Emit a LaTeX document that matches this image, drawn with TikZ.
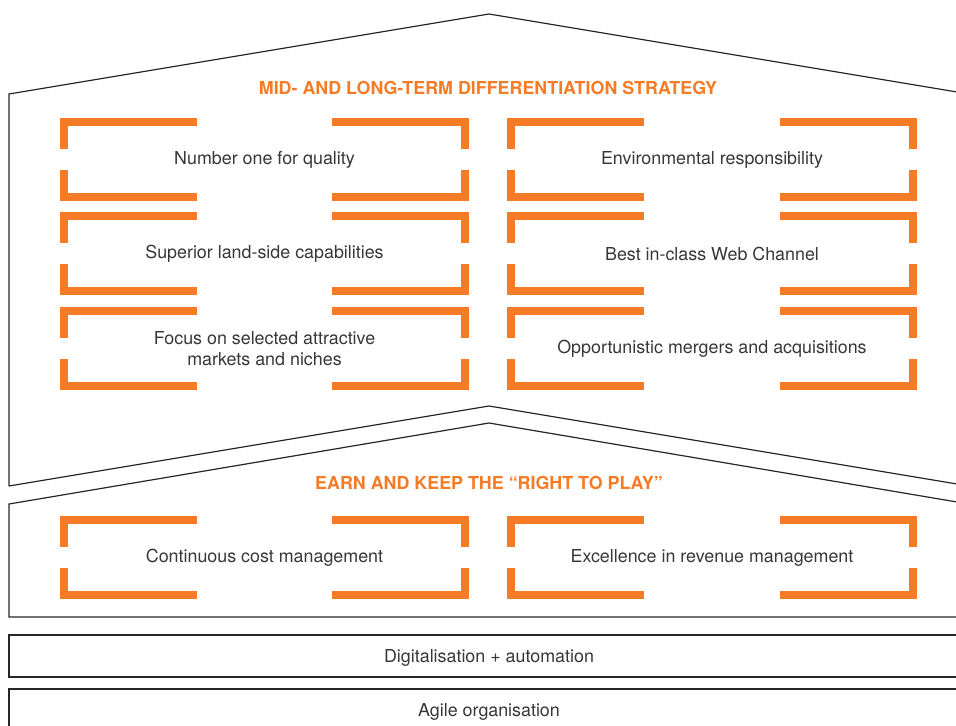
\documentclass[tikz,border=0pt]{standalone}
\usepackage{fontspec}
\setmainfont{TeX Gyre Heros}
\usetikzlibrary{calc}
\definecolor{orng}{RGB}{245,123,38}
\definecolor{txtgray}{RGB}{55,55,55}

\begin{document}
\begin{tikzpicture}[x=0.75pt, y=-0.75pt,
  ttl/.style={font=\fontsize{13.4}{16}\selectfont\bfseries, text=orng, inner sep=0pt},
  pillar/.style={minimum width=306.75pt, minimum height=62.25pt, inner sep=0pt, align=center, text=txtgray, font=\fontsize{13.4}{15.5}\selectfont},
  base/.style={text=txtgray, font=\fontsize{13.4}{15.5}\selectfont, inner sep=0pt},
  brk/.style={draw=orng, line width=6pt, line cap=butt, line join=miter},
  wall/.style={draw=black!85, line width=0.9pt, line join=miter}]
\useasboundingbox (0,0) rectangle (956,725);
% roof and walls
\draw[wall] (9,486) -- (9,94) -- (489,14) -- (960,92.5);
\draw[wall] (9,486) -- (489,406) -- (960,484.5);
\draw[wall] (960,502.5) -- (489,423) -- (9,504) -- (9,617) -- (960,617);
\draw[wall] (960,635) -- (9,635) -- (9,677) -- (960,677);
\draw[wall] (960,689) -- (9,689) -- (9,730);
% titles
\node[ttl] (midterm) at (488,88) {MID- AND LONG-TERM DIFFERENTIATION STRATEGY};
\node[ttl] (rightplay) at (489,483) {EARN AND KEEP THE “RIGHT TO PLAY”};
% pillars
\node[pillar] (quality) at (264.5,159.5) {Number one for quality};
\node[pillar] (environ) at (712,159.5) {Environmental responsibility};
\node[pillar] (landside) at (264.5,253.5) {Superior land-side capabilities};
\node[pillar] (webchan) at (712,253.5) {Best in-class Web Channel};
\node[pillar] (markets) at (264.5,348.5) {Focus on selected attractive\\markets and niches};
\node[pillar] (mergers) at (712,348.5) {Opportunistic mergers and acquisitions};
\node[pillar] (cost) at (264.5,557.5) {Continuous cost management};
\node[pillar] (revenue) at (712,557.5) {Excellence in revenue management};
\foreach \n in {quality, environ, landside, webchan, markets, mergers, cost, revenue}{
  \foreach \a/\sx/\sy in {north west/1/1, north east/-1/1, south west/1/-1, south east/-1/-1}{
    \draw[brk] ($(\n.\a)+(137*\sx,4*\sy)$) -- ($(\n.\a)+(4*\sx,4*\sy)$) -- ($(\n.\a)+(4*\sx,31*\sy)$);}}
% foundations
\node[base] (digital) at (489,658) {Digitalisation + automation};
\node[base] (agile) at (489,712) {Agile organisation};
\end{tikzpicture}
\end{document}
